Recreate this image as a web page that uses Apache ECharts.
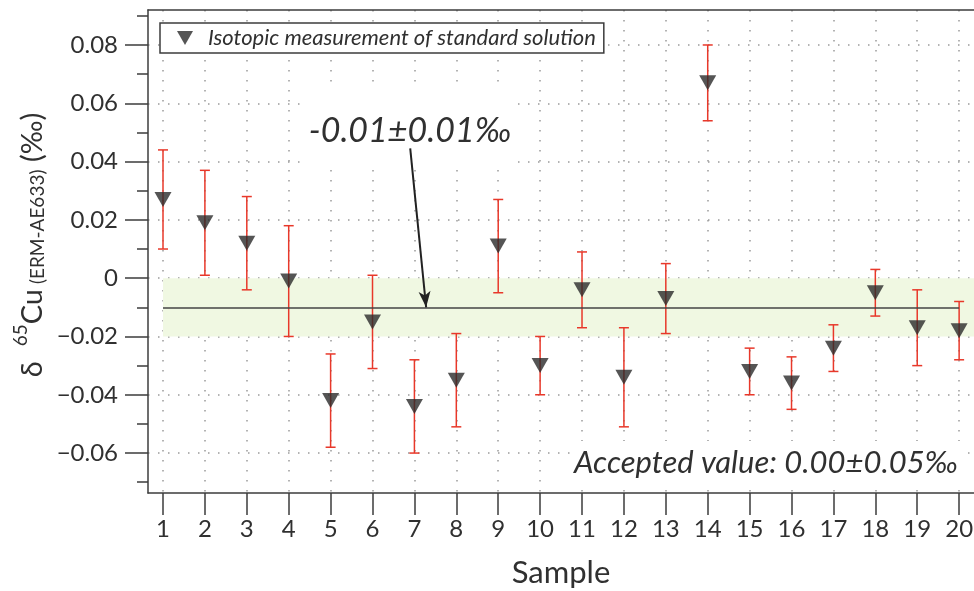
<!DOCTYPE html>
<html>
<head>
<meta charset="utf-8">
<script src="https://cdn.jsdelivr.net/npm/echarts@6/dist/echarts.min.js"></script>
<style>
  html, body { margin: 0; padding: 0; background: #fff; }
  #chart { width: 974px; height: 591px; }
</style>
</head>
<body>
<div id="chart"></div>
<script>
// --- data ---
const samples = [1, 2, 3, 4, 5, 6, 7, 8, 9, 10, 11, 12, 13, 14, 15, 16, 17, 18, 19, 20];
const delta65Cu = [0.027, 0.019, 0.012, -0.001, -0.042, -0.015, -0.044, -0.035, 0.011, -0.030,
                   -0.004, -0.034, -0.007, 0.067, -0.032, -0.036, -0.024, -0.005, -0.017, -0.018];
const uncertainty = [0.017, 0.018, 0.016, 0.019, 0.016, 0.016, 0.016, 0.016, 0.016, 0.010,
                     0.013, 0.017, 0.012, 0.013, 0.008, 0.009, 0.008, 0.008, 0.013, 0.010];
const yMajorTicks = [-0.06, -0.04, -0.02, 0, 0.02, 0.04, 0.06, 0.08];
const yMinorTicks = [-0.07, -0.05, -0.03, -0.01, 0.01, 0.03, 0.05, 0.07, 0.09];
const meanValue = -0.01;
const meanBand = [-0.02, 0];
const arrowFrom = [6.9, 0.0445];
const arrowTo = [7.28, -0.01];
const seriesName = 'Isotopic measurement of standard solution';
const meanText = '-0.01±0.01‰';
const acceptedText = 'Accepted value: 0.00±0.05‰';

// axis extents (plot runs off the right edge of the figure)
const X_MIN = 0.642, X_MAX = 20.355;
const Y_MIN = -0.0737, Y_MAX = 0.092;
const FONT = 'Lato';
const INK = '#303030';
const AXIS = '#3c3c3c';

const dotted = { color: '#9a9a9a', width: 1.5, type: [1.5, 8.5] };

const chart = echarts.init(document.getElementById('chart'));

const fmtY = v => {
  if (Math.abs(v) < 1e-9) return '0';
  return (v < 0 ? '\u2212' : '') + Math.abs(v).toFixed(2);
};

chart.setOption({
  animation: false,
  textStyle: { fontFamily: FONT },
  grid: { left: 148, top: 10, right: 0, height: 483, show: false, outerBoundsMode: 'none' },
  legend: {
    left: 160, top: 23,
    data: [{ name: seriesName, icon: 'path://M0,0L16,0L8,14Z' }],
    itemWidth: 16, itemHeight: 14,
    padding: [4, 8, 4, 17],
    borderColor: AXIS, borderWidth: 1.5, backgroundColor: '#fff',
    textStyle: { fontFamily: FONT, fontStyle: 'italic', fontSize: 22, color: INK, padding: [0, 0, 0, 10] },
  },
  xAxis: [
    {
      type: 'value', min: X_MIN, max: X_MAX, position: 'bottom',
      name: 'Sample', nameLocation: 'middle', nameGap: 64,
      nameTextStyle: { fontFamily: FONT, fontSize: 31, color: INK },
      axisLine: { show: true, onZero: false, lineStyle: { color: AXIS, width: 1.5 } },
      axisTick: { show: true, customValues: samples, length: 22, lineStyle: { color: AXIS, width: 1.5 } },
      axisLabel: { customValues: samples, margin: 24, fontSize: 24, color: INK, fontFamily: FONT },
      splitLine: { show: true, lineStyle: dotted },
    },
    {
      type: 'value', min: X_MIN, max: X_MAX, position: 'top',
      axisLine: { show: true, onZero: false, lineStyle: { color: AXIS, width: 1.5 } },
      axisTick: { show: false }, axisLabel: { show: false }, splitLine: { show: false },
    },
  ],
  yAxis: [
    {
      type: 'value', min: Y_MIN, max: Y_MAX,
      axisLine: { show: true, onZero: false, lineStyle: { color: AXIS, width: 1.5 } },
      axisTick: { show: true, customValues: yMajorTicks, length: 23, lineStyle: { color: AXIS, width: 1.5 } },
      axisLabel: { customValues: yMajorTicks, margin: 30, fontSize: 24, color: INK, fontFamily: FONT, formatter: fmtY },
      splitLine: { show: true, lineStyle: dotted },
    },
    {
      type: 'value', min: Y_MIN, max: Y_MAX, position: 'left',
      axisLine: { show: false, onZero: false },
      axisTick: { show: true, customValues: yMinorTicks, length: 11, lineStyle: { color: AXIS, width: 1.5 } },
      axisLabel: { show: false },
      splitLine: { show: false },
    },
  ],
  graphic: [
    // y axis title
    {
      type: 'text', x: 29, y: 245, rotation: Math.PI / 2,
      style: {
        text: '{a|δ  }{sup|65}{a|Cu}{sub| (ERM-AE633)}{a| (‰)}',
        align: 'center', verticalAlign: 'middle',
        rich: {
          a: { fontFamily: FONT, fontSize: 29, lineHeight: 36, verticalAlign: 'bottom', fill: INK },
          sup: { fontFamily: FONT, fontSize: 19, lineHeight: 20, verticalAlign: 'top', fill: INK },
          sub: { fontFamily: FONT, fontSize: 19, lineHeight: 36, verticalAlign: 'bottom', fill: INK },
        },
      },
    },
    // white box behind the mean annotation
    { type: 'rect', z: 1, shape: { x: 300, y: 90, width: 218, height: 77 }, style: { fill: '#fff' } },
    {
      type: 'text', z: 1, x: 410, y: 131,
      style: { text: meanText, align: 'center', verticalAlign: 'middle', fontFamily: FONT, fontStyle: 'italic', fontSize: 34, fill: INK },
    },
    // accepted value box
    { type: 'rect', z: 1, shape: { x: 570, y: 441, width: 392, height: 49 }, style: { fill: '#fff' } },
    {
      type: 'text', z: 1, x: 766, y: 463,
      style: { text: acceptedText, align: 'center', verticalAlign: 'middle', fontFamily: FONT, fontStyle: 'italic', fontSize: 31, fill: INK },
    },
  ],
  series: [
    {
      name: 'band',
      type: 'line',
      data: [],
      silent: true,
      markArea: {
        silent: true,
        itemStyle: { color: '#f0f8e2' },
        data: [[{ coord: [1, meanBand[1]] }, { coord: [X_MAX, meanBand[0]] }]],
      },
      markLine: {
        silent: true, symbol: 'none', label: { show: false },
        lineStyle: { color: '#444', width: 1.5, type: 'solid' },
        data: [[{ coord: [1, meanValue] }, { coord: [20, meanValue] }]],
      },
    },
    {
      name: 'error',
      type: 'custom',
      data: samples.map((s, i) => [s, delta65Cu[i] - uncertainty[i], delta65Cu[i] + uncertainty[i]]),
      renderItem: (params, api) => {
        const hi = api.coord([api.value(0), api.value(2)]);
        const lo = api.coord([api.value(0), api.value(1)]);
        const cap = 5;
        const st = { stroke: '#e8382a', lineWidth: 1.5 };
        return {
          type: 'group',
          children: [
            { type: 'line', shape: { x1: hi[0], y1: hi[1], x2: lo[0], y2: lo[1] }, style: st },
            { type: 'line', shape: { x1: hi[0] - cap, y1: hi[1], x2: hi[0] + cap, y2: hi[1] }, style: st },
            { type: 'line', shape: { x1: lo[0] - cap, y1: lo[1], x2: lo[0] + cap, y2: lo[1] }, style: st },
          ],
        };
      },
      z: 3,
    },
    {
      name: seriesName,
      type: 'scatter',
      data: samples.map((s, i) => [s, delta65Cu[i]]),
      symbol: 'path://M0,0L16,0L8,14Z',
      symbolSize: [17, 15],
      itemStyle: { color: '#2a2a2a' },
      z: 4,
      markLine: {
        silent: true, symbol: ['none', 'arrow'], symbolSize: [9, 16], label: { show: false },
        lineStyle: { color: '#222', width: 2, type: 'solid' },
        data: [[{ coord: arrowFrom }, { coord: arrowTo }]],
      },
    },
  ],
});
</script>
</body>
</html>
